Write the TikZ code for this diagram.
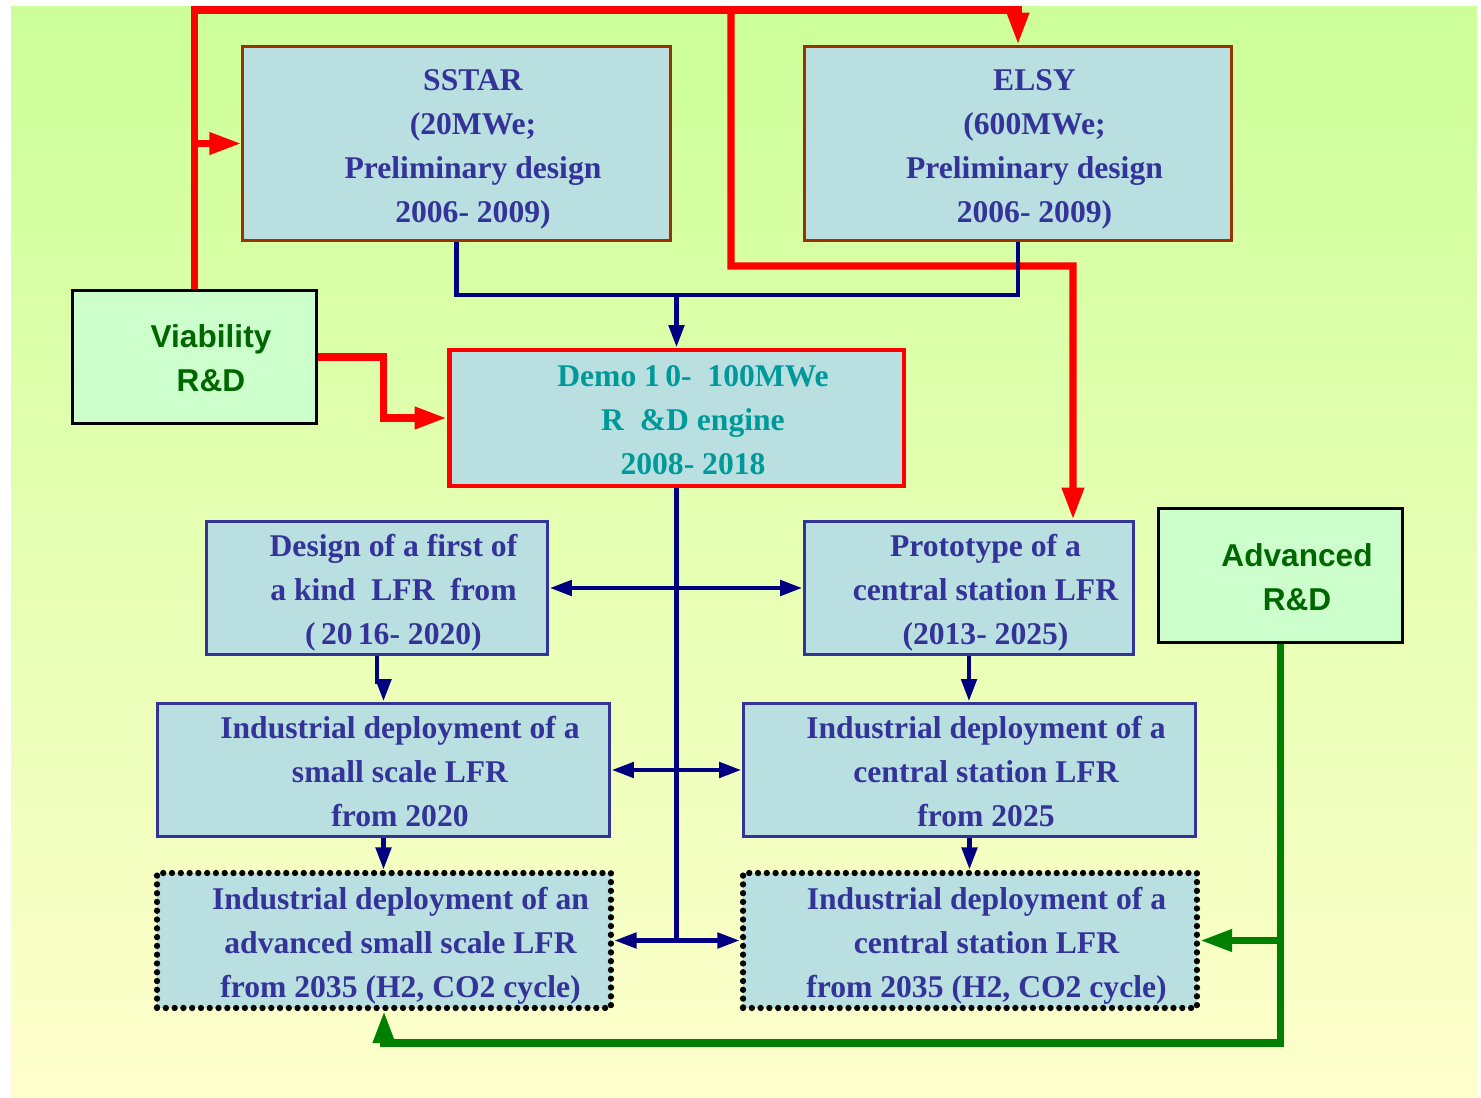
\documentclass[tikz,border=0pt]{standalone}
\usepackage{fontspec}
\setmainfont{Liberation Serif}
\setsansfont{Liberation Sans}
\usepackage{tikz}
\usetikzlibrary{positioning, calc, arrows.meta}
\definecolor{lfrBgTop}{RGB}{204,255,153}
\definecolor{lfrBgBot}{RGB}{255,255,204}
\definecolor{lfrFill}{RGB}{185,223,225}
\definecolor{lfrText}{RGB}{51,51,153}
\definecolor{lfrBrown}{RGB}{153,51,0}
\definecolor{lfrNavy}{RGB}{0,0,128}
\definecolor{lfrTeal}{RGB}{0,153,153}
\definecolor{lfrRed}{RGB}{255,0,0}
\definecolor{lfrGreen}{RGB}{0,128,0}
\definecolor{lfrRdFill}{RGB}{204,255,204}
\definecolor{lfrRdText}{RGB}{0,102,0}
% text block sits a little right of and below the box centre
\newcommand{\lfrlines}[1]{\hspace*{0.66cm}\raisebox{-0.08cm}[\height][\depth]{\begin{tabular}{@{}c@{}}#1\end{tabular}}}

\begin{document}
\begin{tikzpicture}[
        x=0.02cm, y=-0.02cm,
        stage/.style={fill=lfrFill, text=lfrText, inner sep=0pt,
          font=\bfseries\fontsize{18}{25}\selectfont},
        design/.style={stage, draw=lfrBrown, line width=1.7pt, minimum width=8.55cm, minimum height=3.9cm},
        plain/.style={stage, draw=lfrText, line width=1.7pt, minimum height=2.68cm},
        future/.style={stage, draw=black, line width=3.6pt, line cap=round, dash pattern=on 0pt off 5pt,
          minimum width=9.08cm, minimum height=2.7cm},
        demobox/.style={stage, draw=lfrRed, line width=2.8pt, text=lfrTeal, minimum width=9.1cm, minimum height=2.72cm},
        rdbox/.style={fill=lfrRdFill, draw=black, line width=1.7pt, text=lfrRdText, inner sep=0pt,
          font=\sffamily\bfseries\fontsize{18}{25}\selectfont, minimum width=4.9cm, minimum height=2.67cm},
        redline/.style={draw=lfrRed, line width=4pt, >={Triangle[length=0.64cm, width=0.42cm]}},
        navyline/.style={draw=lfrNavy, line width=2.8pt, >={Triangle[length=0.45cm, width=0.3cm]}},
        greenline/.style={draw=lfrGreen, line width=4pt, >={Triangle[length=0.64cm, width=0.42cm]}}
      ]
        % background
        \useasboundingbox (0,0) rectangle (1481,1098);
        \fill[top color=lfrBgTop, bottom color=lfrBgBot] (11,7) rectangle (1477,1098);

        % boxes
        \node[design] (sstar) at (456.5,143.5) {\lfrlines{SSTAR\\(20MWe;\\Preliminary design\\2006- 2009)}};
        \node[design] (elsy) at (1018,143.5) {\lfrlines{ELSY\\(600MWe;\\Preliminary design\\2006- 2009)}};
        \node[rdbox] (viab) at (194.5,357) {\lfrlines{Viability\\R\&D}};
        \node[demobox] (demo) at (676.5,418) {\lfrlines{Demo 1\,0-\ \ 100MWe\\R\ \ \&D engine\\2008- 2018}};
        \node[plain, minimum width=6.84cm] (first) at (377,588) {\lfrlines{Design of a first of\\a kind\ \ LFR\ \ from\\(\,20\,16- 2020)}};
        \node[plain, minimum width=6.6cm] (proto) at (969,588) {\lfrlines{Prototype of a\\central station LFR\\(2013- 2025)}};
        \node[rdbox] (advrd) at (1280.5,575.5) {\lfrlines{Advanced\\R\&D}};
        \node[plain, minimum width=9.06cm] (indsmall) at (383.5,770) {\lfrlines{Industrial deployment of a\\small scale LFR\\from 2020}};
        \node[plain, minimum width=9.06cm] (indcentral) at (969.5,770) {\lfrlines{Industrial deployment of a\\central station LFR\\from 2025}};
        \node[future] (advsmall) at (384,940.5) {\lfrlines{Industrial deployment of an\\advanced small scale LFR\\from 2035 (H2, CO2 cycle)}};
        \node[future] (advcentral) at (970,940.5) {\lfrlines{Industrial deployment of a\\central station LFR\\from 2035 (H2, CO2 cycle)}};

        % viability R&D links
        \coordinate (redtop) at (731,10);
        \draw[redline, ->] (viab.north) |- (redtop) -| (elsy.north);
        \draw[redline, ->] (viab.north |- sstar.west) -- (sstar.west);
        \draw[redline, ->] (redtop) |- (1073,266) -- ([xshift=2.08cm]proto.north);
        \draw[redline, ->] (viab.east) -- ++(65,0) |- (demo.west);

        % design flow
        \coordinate (navjoin) at (676.5,295);
        \draw[navyline] (sstar.south) |- (navjoin) -| (elsy.south);
        \draw[navyline, ->] (navjoin) -- (demo.north);
        \draw[navyline] (demo.south) -- (demo.south |- advsmall.east);
        \draw[navyline, <->] (first.east) -- (proto.west);
        \draw[navyline, <->] (indsmall.east) -- (indcentral.west);
        \draw[navyline, <->] (advsmall.east) -- (advcentral.west);
        \draw[navyline, ->] (first.south) -- ++(0,25) -| (indsmall.north);
        \draw[navyline, ->] (proto.south) -- (proto.south |- indcentral.north);
        \draw[navyline, ->] (indsmall.south) -- (indsmall.south |- advsmall.north);
        \draw[navyline, ->] (indcentral.south) -- (indcentral.south |- advcentral.north);

        % advanced R&D links
        \coordinate (grncorner) at (1280.5,1043);
        \draw[greenline, ->] (advrd.south) -- (grncorner) -| (advsmall.south);
        \draw[greenline, ->] (advrd.south |- advcentral.east) -- (advcentral.east);
      \end{tikzpicture}
\end{document}
